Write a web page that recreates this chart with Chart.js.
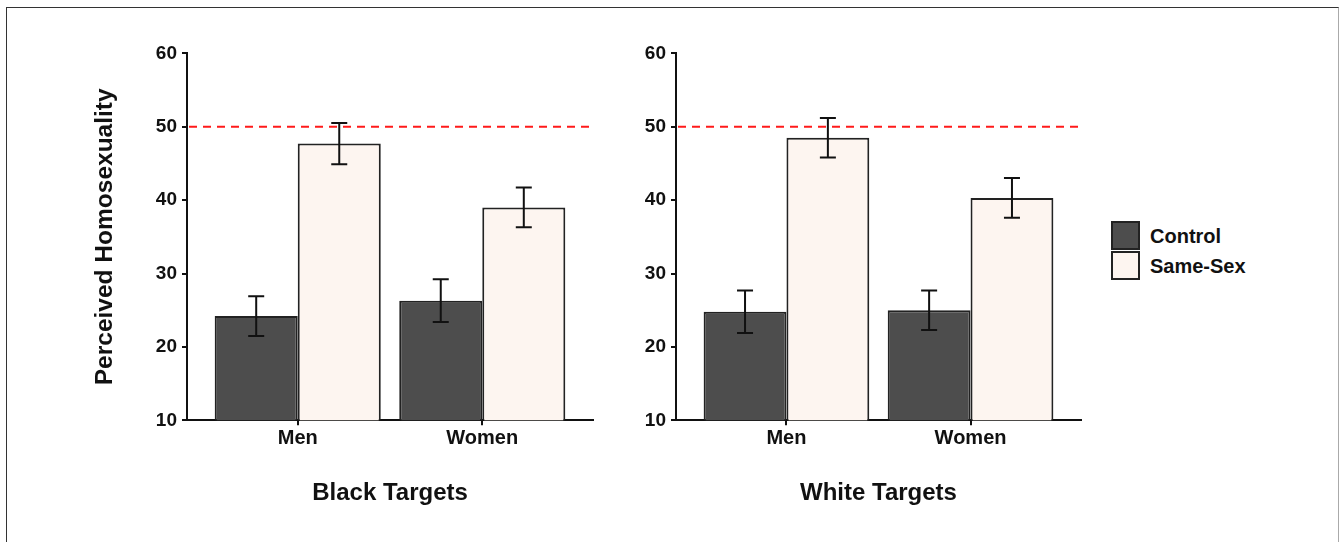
<!DOCTYPE html>
<html>
<head>
<meta charset="utf-8">
<script src="https://cdn.jsdelivr.net/npm/chart.js@4.4.1/dist/chart.umd.min.js"></script>
<style>
  html, body { margin: 0; padding: 0; background: #fff; }
  body { width: 1341px; height: 542px; position: relative; overflow: hidden; font-family: "Liberation Sans", Arial, sans-serif; }
  #frame { position: absolute; left: 6px; top: 7px; width: 1333px; height: 600px; border: 1px solid #333; border-right-color: #aaa; box-sizing: border-box; }
  .cv { position: absolute; top: 0; }
  .lbox { position: absolute; width: 29px; height: 29px; box-sizing: border-box; border: 2px solid #222; }
  .ltxt { position: absolute; font-weight: bold; font-size: 20px; color: #111; line-height: 24px; }
</style>
</head>
<body>
<div id="frame"></div>
<div class="cv" id="w1" style="left:0;width:600px;height:542px;"><canvas id="c1"></canvas></div>
<div class="cv" id="w2" style="left:600px;width:490px;height:542px;"><canvas id="c2"></canvas></div>
<div id="legend"></div>
<script>
// ---- data ----
const categories = ['Men', 'Women'];
const seriesNames = ['Control', 'Same-Sex'];
const panelTitles = ['Black Targets', 'White Targets'];
const yAxisTitle = 'Perceived Homosexuality';
const yTicks = [10, 20, 30, 40, 50, 60];
const referenceLine = 50;

const blackControl = [24.2, 26.3];
const blackControlErr = [2.7, 2.9];
const blackSameSex = [47.7, 39.0];
const blackSameSexErr = [2.8, 2.7];

const whiteControl = [24.8, 25.0];
const whiteControlErr = [2.9, 2.7];
const whiteSameSex = [48.5, 40.3];
const whiteSameSexErr = [2.7, 2.7];

// ---- styles ----
const colors = ['#4d4d4d', '#fdf5f0'];
const FONT = '"Liberation Sans", Arial, sans-serif';

const legendDiv = document.getElementById('legend');
seriesNames.forEach((name, i) => {
  const b = document.createElement('div');
  b.className = 'lbox';
  b.style.left = '1111px';
  b.style.top = (221 + i * 30) + 'px';
  b.style.background = colors[i];
  legendDiv.appendChild(b);
  const t = document.createElement('div');
  t.className = 'ltxt';
  t.style.left = '1150px';
  t.style.top = (224 + i * 30) + 'px';
  t.textContent = name;
  legendDiv.appendChild(t);
});

const overlayPlugin = {
  id: 'overlay',
  afterDatasetsDraw(chart) {
    const ctx = chart.ctx;
    const ys = chart.scales.y;
    // reference line
    ctx.save();
    ctx.strokeStyle = '#ff1a1a';
    ctx.lineWidth = 2;
    ctx.setLineDash([8, 6]);
    const yr = ys.getPixelForValue(referenceLine);
    ctx.beginPath();
    ctx.moveTo(chart.chartArea.left + 2, yr);
    ctx.lineTo(chart.chartArea.right, yr);
    ctx.stroke();
    ctx.restore();
    // error bars
    ctx.save();
    ctx.strokeStyle = '#111';
    ctx.lineWidth = 2;
    chart.data.datasets.forEach((ds, di) => {
      const meta = chart.getDatasetMeta(di);
      meta.data.forEach((el, i) => {
        const v = ds.data[i].y, e = ds.errors[i];
        const x = el.x;
        const y1 = ys.getPixelForValue(v + e), y2 = ys.getPixelForValue(v - e);
        ctx.beginPath();
        ctx.moveTo(x, y1); ctx.lineTo(x, y2);
        ctx.moveTo(x - 8, y1); ctx.lineTo(x + 8, y1);
        ctx.moveTo(x - 8, y2); ctx.lineTo(x + 8, y2);
        ctx.stroke();
      });
    });
    ctx.restore();
  }
};

function makeChart(canvasId, control, controlErr, same, sameErr, title, showYTitle, yWidth, padRight) {
  const mk = (vals) => vals.map((v, i) => ({ x: i + 1, y: v }));
  return new Chart(document.getElementById(canvasId), {
    type: 'bar',
    data: {
      datasets: [
        { label: seriesNames[0], data: mk(control), errors: controlErr, backgroundColor: colors[0], borderColor: '#222', borderWidth: 2, borderSkipped: false },
        { label: seriesNames[1], data: mk(same), errors: sameErr, backgroundColor: colors[1], borderColor: '#222', borderWidth: 2, borderSkipped: false }
      ]
    },
    options: {
      responsive: true,
      maintainAspectRatio: false,
      animation: false,
      layout: { padding: { top: 53.3, bottom: 0, left: 0, right: padRight } },
      datasets: { bar: { categoryPercentage: 0.9, barPercentage: 1.0 } },
      plugins: { legend: { display: false }, tooltip: { enabled: false } },
      scales: {
        x: {
          type: 'linear',
          offset: false,
          min: 0.4, max: 2.6,
          afterBuildTicks: (s) => { s.ticks = categories.map((c, i) => ({ value: i + 1 })); },
          afterFit: (s) => { s.height = 542 - 420.3; },
          ticks: { callback: (v) => categories[Math.round(v) - 1], color: '#111', padding: 1, maxRotation: 0, font: { family: FONT, size: 20, weight: 'bold' } },
          grid: { display: true, offset: false, drawOnChartArea: false, drawTicks: true, tickLength: 5, color: '#111', lineWidth: 2 },
          border: { display: true, color: '#111', width: 2 },
          title: { display: true, text: title, color: '#111', font: { family: FONT, size: 24, weight: 'bold' }, padding: { top: 0, bottom: 34 } }
        },
        y: {
          min: 10, max: 60,
          afterBuildTicks: (s) => { s.ticks = yTicks.map(v => ({ value: v })); },
          afterFit: (s) => { s.width = yWidth; },
          ticks: { color: '#111', padding: 5, font: { family: FONT, size: 19, weight: 'bold' } },
          grid: { display: true, drawOnChartArea: false, drawTicks: true, tickLength: 5, color: '#111', lineWidth: 2 },
          border: { display: true, color: '#111', width: 2 },
          title: { display: showYTitle, text: yAxisTitle, color: '#111', font: { family: FONT, size: 24.5, weight: 'bold' }, padding: { top: 91, bottom: 0 } }
        }
      }
    },
    plugins: [overlayPlugin]
  });
}

makeChart('c1', blackControl, blackControlErr, blackSameSex, blackSameSexErr, panelTitles[0], true, 187, 7);
makeChart('c2', whiteControl, whiteControlErr, whiteSameSex, whiteSameSexErr, panelTitles[1], false, 76, 9);
</script>
</body>
</html>
